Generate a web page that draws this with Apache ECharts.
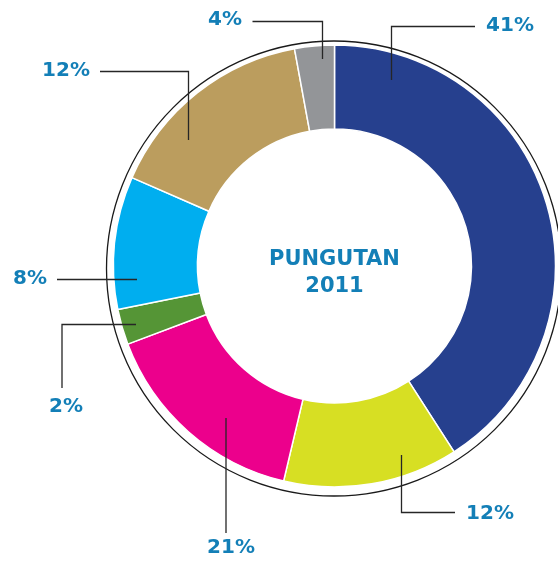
<!DOCTYPE html>
<html>
<head>
<meta charset="utf-8">
<script src="https://cdn.jsdelivr.net/npm/echarts@6/dist/echarts.min.js"></script>
<style>
  html, body { margin: 0; padding: 0; background: #fff; }
  #chart { width: 558px; height: 563px; }
</style>
</head>
<body>
<div id="chart"></div>
<script>
// slice sizes as drawn (angles), printed labels as published
const categories = ['Kategori 1', 'Kategori 2', 'Kategori 3', 'Kategori 4', 'Kategori 5', 'Kategori 6', 'Kategori 7']
const sliceShares = [40.9, 12.8, 15.55, 2.6, 9.7, 15.55, 2.9]
const percentLabels = ['41%', '12%', '21%', '2%', '8%', '12%', '4%']
const sliceColors = ['#26408e', '#d7df23', '#ec008c', '#559536', '#00aeef', '#bb9d5e', '#939598']
const centerTitle = ['PUNGUTAN', '2011']

// label placement: text centre + elbow leader line (drawn over the slices)
const labelSpots = [
  { at: [510, 26], line: [[391.5, 80], [391.5, 26.5], [475, 26.5]] },
  { at: [490, 514], line: [[401.5, 455], [401.5, 512.5], [455, 512.5]] },
  { at: [231, 548], line: [[226, 418], [226, 533]] },
  { at: [66, 407], line: [[136, 324.5], [62, 324.5], [62, 388]] },
  { at: [30, 279], line: [[137, 279.5], [57, 279.5]] },
  { at: [66, 71], line: [[188.5, 140], [188.5, 71.5], [100, 71.5]] },
  { at: [225, 20], line: [[322.5, 59], [322.5, 21.5], [252.5, 21.5]] },
]

const textBlue = '#137fb7'
const font = '"DejaVu Sans", sans-serif'

const chart = echarts.init(document.getElementById('chart'))

const leaderLines = labelSpots.map((s) => ({
  type: 'polyline',
  z: 100,
  silent: true,
  shape: { points: s.line },
  style: { stroke: '#262626', lineWidth: 1.3, fill: null },
}))

chart.setOption({
  animation: false,
  graphic: [
    {
      type: 'text',
      x: 334.5,
      y: 273,
      silent: true,
      style: {
        text: centerTitle.join('\n'),
        align: 'center',
        verticalAlign: 'middle',
        fill: textBlue,
        font: 'bold 21px ' + font,
        lineHeight: 27,
      },
    },
    ...leaderLines,
  ],
  series: [
    {
      // thin outline ring around the donut
      type: 'pie',
      center: [334, 268.5],
      radius: 227.5,
      silent: true,
      z: 1,
      label: { show: false },
      labelLine: { show: false },
      itemStyle: { color: 'rgba(0,0,0,0)', borderColor: '#1a1a1a', borderWidth: 1.3 },
      data: [{ value: 1, name: 'ring' }],
    },
    {
      type: 'pie',
      center: [334.5, 266],
      radius: [137, 221],
      startAngle: 90,
      clockwise: true,
      avoidLabelOverlap: false,
      z: 2,
      itemStyle: { borderColor: '#fff', borderWidth: 1.5 },
      label: {
        show: true,
        position: 'outside',
        formatter: (p) => percentLabels[p.dataIndex],
        color: textBlue,
        fontFamily: font,
        fontWeight: 'bold',
        fontSize: 20,
      },
      labelLine: { show: false },
      labelLayout: (params) => {
        const spot = labelSpots[params.dataIndex]
        return { x: spot.at[0], y: spot.at[1], align: 'center', verticalAlign: 'middle' }
      },
      data: categories.map((name, i) => ({
        name,
        value: sliceShares[i],
        itemStyle: { color: sliceColors[i] },
      })),
    },
  ],
})
</script>
</body>
</html>
